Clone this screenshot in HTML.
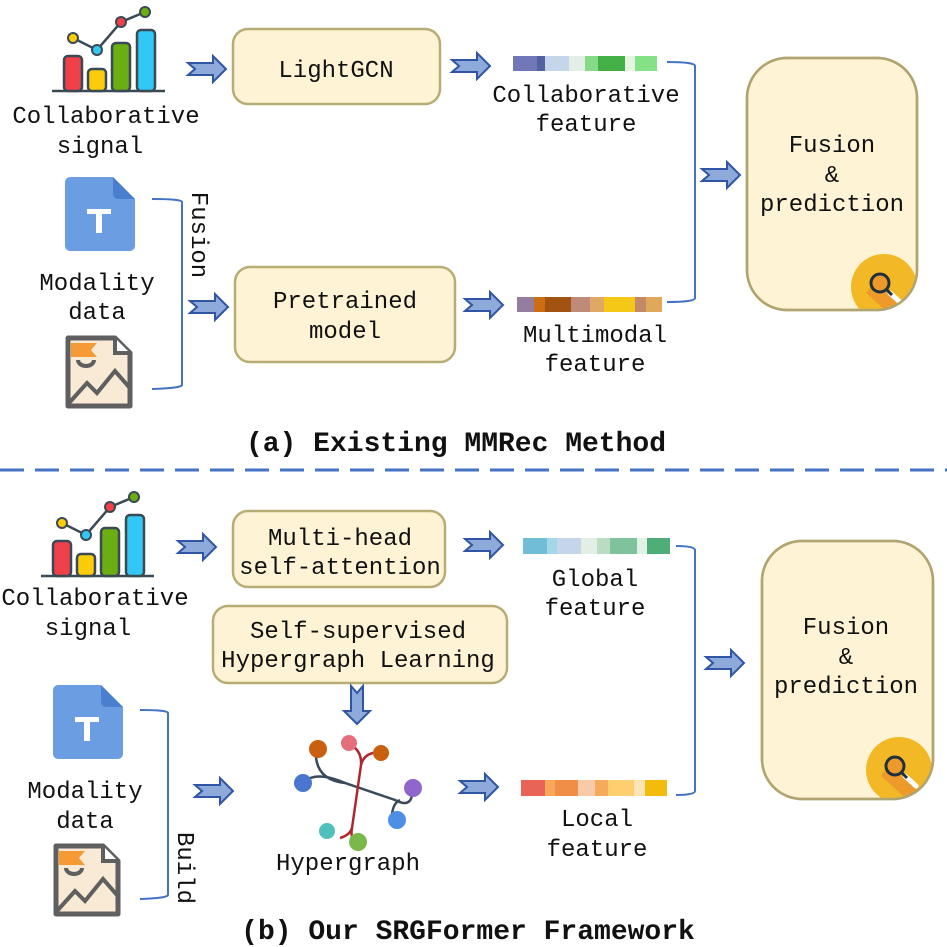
<!DOCTYPE html>
<html><head><meta charset="utf-8"><style>
html,body{margin:0;padding:0;background:#fff}
svg{display:block}
text{font-family:"Liberation Mono","DejaVu Sans Mono",monospace;font-size:24px;fill:#111;text-anchor:middle}
.t{font-weight:bold;font-size:28px}
</style></head><body>
<svg width="947" height="947" viewBox="0 0 947 947" xmlns="http://www.w3.org/2000/svg">
<defs>
<g id="ar"><path d="M0,-6 L25,-6 L25,-13 L38,0 L25,13 L25,6 L0,6 L7,0 Z" fill="#8eaadb" stroke="#2f55a4" stroke-width="2" stroke-linejoin="miter"/></g>
<g id="chart">
<line x1="0" y1="86" x2="113" y2="86" stroke="#3a4a55" stroke-width="2.5"/>
<polyline points="21,33 45,45 69,17 93,7" fill="none" stroke="#3a4a55" stroke-width="2.5"/>
<rect x="12" y="51" width="18" height="35" rx="4" fill="#f0404a" stroke="#3a4a55" stroke-width="2.5"/>
<rect x="36" y="64" width="18" height="22" rx="4" fill="#fbcc0a" stroke="#3a4a55" stroke-width="2.5"/>
<rect x="60" y="38" width="18" height="48" rx="4" fill="#6aae12" stroke="#3a4a55" stroke-width="2.5"/>
<rect x="85" y="25" width="18" height="61" rx="4" fill="#32c8f5" stroke="#3a4a55" stroke-width="2.5"/>
<circle cx="21" cy="33" r="5" fill="#fbcc0a" stroke="#3a4a55" stroke-width="2"/>
<circle cx="45" cy="45" r="5" fill="#32c8f5" stroke="#3a4a55" stroke-width="2"/>
<circle cx="69" cy="17" r="5" fill="#f0404a" stroke="#3a4a55" stroke-width="2"/>
<circle cx="93" cy="7" r="5" fill="#6aae12" stroke="#3a4a55" stroke-width="2"/>
</g>
<g id="tdoc">
<path d="M6,0 L48,0 L70,22 L70,68 Q70,74 64,74 L6,74 Q0,74 0,68 L0,6 Q0,0 6,0 Z" fill="#6b9de3"/>
<path d="M48,0 L70,22 L54,22 Q48,22 48,16 Z" fill="#4a7fd0"/>
<rect x="22" y="32" width="24" height="5" fill="#fff"/><rect x="31" y="32" width="6" height="24" fill="#fff"/>
</g>
<g id="img">
<path d="M3,3 L50,3 L65,18 L65,71 L3,71 Z" fill="#f8ead5" stroke="#5f5f5f" stroke-width="5" stroke-linejoin="round"/>
<path d="M50,3 L50,18 L65,18" fill="#fff" stroke="#5f5f5f" stroke-width="4"/>
<path d="M6,8 L32,8 L26,15 L32,22 L6,22 Z" fill="#f59a34"/>
<path d="M13,25 A8,6 0 0 0 29,25" fill="none" stroke="#5f5f5f" stroke-width="4"/>
<polyline points="4,68 22,48 32,58 50,36 64,52" fill="none" stroke="#5f5f5f" stroke-width="4"/>
</g>
<clipPath id="c1"><rect x="747" y="58" width="170" height="252" rx="40"/></clipPath>
<clipPath id="c2"><rect x="762" y="541" width="171" height="258" rx="40"/></clipPath>
<g id="mag">
<circle cx="0" cy="0" r="33" fill="#f2b826"/>
<path d="M-10,-5 L30,30 L20,40 L-18,6 Z" fill="#ee9a2a"/>
<line x1="6" y1="6" x2="17" y2="16" stroke="#fff" stroke-width="5" stroke-linecap="round"/>
<circle cx="-4" cy="-4" r="9" fill="#ee9a2a" stroke="#20303d" stroke-width="3"/>
<line x1="3" y1="3" x2="8" y2="8" stroke="#20303d" stroke-width="3"/>
</g>
</defs>

<!-- (a) -->
<use href="#chart" x="52" y="5"/>
<text x="106" y="123">Collaborative</text><text x="100" y="153">signal</text>
<use href="#ar" x="188" y="69"/>
<rect x="233" y="29" width="207" height="75" rx="15" fill="#fff3d5" stroke="#b7ad74" stroke-width="2.5"/>
<text x="336" y="77">LightGCN</text>
<use href="#ar" x="452" y="66"/>
<g transform="translate(513,56)">
<rect x="0" width="24" height="15" fill="#7177b9"/><rect x="24" width="8" height="15" fill="#5062a0"/><rect x="32" width="24" height="15" fill="#c5d6ea"/><rect x="56" width="16" height="15" fill="#e3eee6"/><rect x="72" width="13" height="15" fill="#85d987"/><rect x="85" width="27" height="15" fill="#45b046"/><rect x="112" width="10" height="15" fill="#e5f5e2"/><rect x="122" width="22" height="15" fill="#85e186"/>
</g>
<text x="586" y="102">Collaborative</text><text x="586" y="131">feature</text>
<path d="M667,62 Q695,62 695,66 L695,298 Q695,302 667,302" fill="none" stroke="#4472c4" stroke-width="2"/>
<use href="#ar" x="702" y="175"/>
<rect x="747" y="58" width="170" height="252" rx="40" fill="#fff3d5" stroke="#b0a570" stroke-width="2.5"/>
<g clip-path="url(#c1)"><use href="#mag" x="884" y="287"/></g>
<rect x="747" y="58" width="170" height="252" rx="40" fill="none" stroke="#b0a570" stroke-width="2.5"/>
<text x="832" y="152">Fusion</text><text x="832" y="182">&amp;</text><text x="832" y="211">prediction</text>
<use href="#tdoc" x="65" y="177"/>
<text x="97" y="290">Modality</text><text x="97" y="319">data</text>
<use href="#img" x="65" y="335"/>
<path d="M152,199 Q182,199 182,202 L182,385 Q182,388 152,389" fill="none" stroke="#4472c4" stroke-width="2"/>
<text transform="translate(192,235) rotate(90)">Fusion</text>
<use href="#ar" x="190" y="307"/>
<rect x="235" y="267" width="220" height="95" rx="15" fill="#fff3d5" stroke="#b7ad74" stroke-width="2.5"/>
<text x="345" y="308">Pretrained</text><text x="345" y="338">model</text>
<use href="#ar" x="465" y="305"/>
<g transform="translate(517,297)">
<rect x="0" width="17" height="15" fill="#947d9e"/><rect x="17" width="11" height="15" fill="#cc6d14"/><rect x="28" width="26" height="15" fill="#a25311"/><rect x="54" width="19" height="15" fill="#bd8b77"/><rect x="73" width="14" height="15" fill="#dfa865"/><rect x="87" width="31" height="15" fill="#f5c817"/><rect x="118" width="11" height="15" fill="#c28a6b"/><rect x="129" width="16" height="15" fill="#dfa85a"/>
</g>
<text x="595" y="342">Multimodal</text><text x="595" y="371">feature</text>
<text class="t" x="456" y="451">(a) Existing MMRec Method</text>
<line x1="0" y1="470" x2="947" y2="470" stroke="#4472c4" stroke-width="3" stroke-dasharray="24,11"/>

<!-- (b) -->
<use href="#chart" x="41" y="490"/>
<text x="95" y="605">Collaborative</text><text x="88" y="635">signal</text>
<use href="#ar" x="178" y="547"/>
<rect x="233" y="511" width="212" height="76" rx="15" fill="#fff3d5" stroke="#b7ad74" stroke-width="2.5"/>
<text x="340" y="545">Multi-head</text><text x="340" y="574">self-attention</text>
<use href="#ar" x="465" y="545"/>
<g transform="translate(523,538)">
<rect x="0" width="24" height="16" fill="#71bcd6"/><rect x="24" width="10" height="16" fill="#a4d7e6"/><rect x="34" width="24" height="16" fill="#c6d6ea"/><rect x="58" width="16" height="16" fill="#e2eee6"/><rect x="74" width="13" height="16" fill="#b9dcc3"/><rect x="87" width="27" height="16" fill="#7ec39c"/><rect x="114" width="10" height="16" fill="#e3f0e6"/><rect x="124" width="23" height="16" fill="#4fae78"/>
</g>
<text x="595" y="586">Global</text><text x="595" y="615">feature</text>
<path d="M676,546 Q695,546 695,550 L695,791 Q695,795 676,795" fill="none" stroke="#4472c4" stroke-width="2"/>
<rect x="213" y="606" width="294" height="77" rx="15" fill="#fff3d5" stroke="#b7ad74" stroke-width="2.5"/>
<text x="358" y="638">Self-supervised</text><text x="358" y="667">Hypergraph Learning</text>
<use href="#ar" transform="translate(357,686) rotate(90)"/>
<g>
<path d="M316,757 Q318,780 345,783 L395,800 Q410,808 412,795" fill="none" stroke="#3a4a5a" stroke-width="2.5"/>
<path d="M303,783 Q315,770 345,783" fill="none" stroke="#3a4a5a" stroke-width="2.5"/>
<path d="M392,815 Q393,803 400,800" fill="none" stroke="#3a4a5a" stroke-width="2.5"/>
<path d="M349,744 Q362,750 361,765 L352,828 Q350,835 340,838" fill="none" stroke="#b0262e" stroke-width="2.5"/>
<path d="M361,765 Q364,752 381,752" fill="none" stroke="#b0262e" stroke-width="2.5"/>
<path d="M352,828 Q350,838 356,842" fill="none" stroke="#b0262e" stroke-width="2.5"/>
<circle cx="318" cy="749" r="9" fill="#c9600f"/>
<circle cx="349" cy="743" r="8" fill="#e46e7c"/>
<circle cx="381" cy="753" r="8" fill="#c9600f"/>
<circle cx="303" cy="783" r="9" fill="#4a76cf"/>
<circle cx="413" cy="788" r="9" fill="#9066cc"/>
<circle cx="397" cy="820" r="9" fill="#4e8fe6"/>
<circle cx="327" cy="831" r="8" fill="#50bfbe"/>
<circle cx="358" cy="842" r="9" fill="#7ab84a"/>
</g>
<text x="348" y="870">Hypergraph</text>
<use href="#tdoc" x="53" y="685"/>
<text x="85" y="798">Modality</text><text x="85" y="828">data</text>
<use href="#img" x="53" y="843"/>
<path d="M140,710 Q168,710 168,713 L168,895 Q168,898 140,899" fill="none" stroke="#4472c4" stroke-width="2"/>
<text transform="translate(178,868) rotate(90)">Build</text>
<use href="#ar" x="195" y="791"/>
<use href="#ar" x="460" y="787"/>
<g transform="translate(521,780)">
<rect x="0" width="24" height="16" fill="#e86456"/><rect x="24" width="10" height="16" fill="#f7a859"/><rect x="34" width="23" height="16" fill="#f08d47"/><rect x="57" width="17" height="16" fill="#f7cba7"/><rect x="74" width="13" height="16" fill="#f5ab5b"/><rect x="87" width="26" height="16" fill="#fdcf6e"/><rect x="113" width="11" height="16" fill="#fde5b6"/><rect x="124" width="22" height="16" fill="#f3bb0b"/>
</g>
<text x="597" y="826">Local</text><text x="597" y="856">feature</text>
<use href="#ar" x="706" y="663"/>
<rect x="762" y="541" width="171" height="258" rx="40" fill="#fff3d5" stroke="#b0a570" stroke-width="2.5"/>
<g clip-path="url(#c2)"><use href="#mag" x="899" y="770"/></g>
<rect x="762" y="541" width="171" height="258" rx="40" fill="none" stroke="#b0a570" stroke-width="2.5"/>
<text x="846" y="634">Fusion</text><text x="846" y="664">&amp;</text><text x="846" y="693">prediction</text>
<text class="t" x="468" y="939">(b) Our SRGFormer Framework</text>
</svg>
</body></html>
